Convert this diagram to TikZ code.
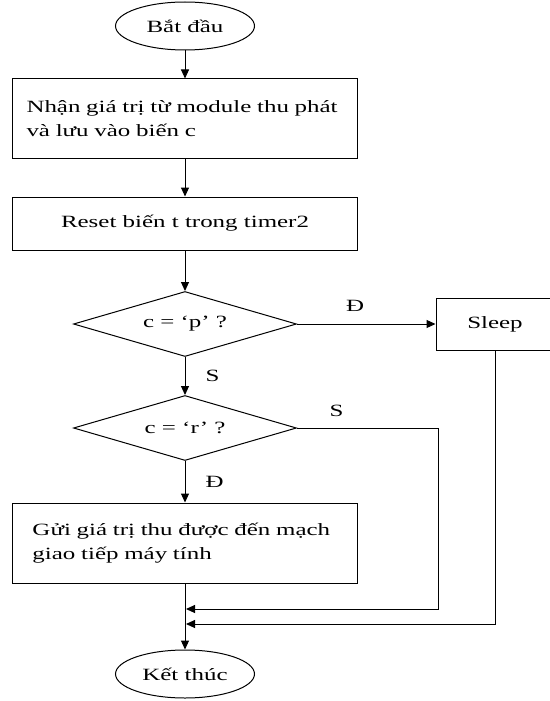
\documentclass[tikz,border=0pt]{standalone}
\usepackage{fontspec}
\setmainfont{Liberation Serif}[FakeStretch=1.45]
\usetikzlibrary{shapes.geometric,arrows.meta,quotes}

\tikzset{
  terminal/.style={ellipse, draw, minimum width=69.5pt, minimum height=24pt, inner sep=0pt},
  process/.style={rectangle, draw, minimum width=172.5pt, minimum height=26.5pt},
  decision/.style={diamond, draw, aspect=3.4, minimum width=111.5pt, minimum height=32.5pt, inner sep=0pt},
}

\begin{document}
\begin{tikzpicture}[x=0.5pt, y=-0.5pt, line width=0.5pt, >={Triangle[length=4.5pt,width=4pt]},
    font=\fontsize{8.6}{11.8}\selectfont, every edge quotes/.append style={auto}]
  \useasboundingbox (0,0) rectangle (550,701);
  \clip (0,0) rectangle (550,701);
  % main column
  \node [terminal] (start) at (185,26) {Bắt đầu};
  \node [process, minimum height=39.5pt, text width=158.5pt, inner xsep=7pt, align=left]
    (recv) at (185,118.5) {Nhận giá trị từ module thu phát\\và lưu vào biến c};
  \node [process] (reset) at (185,223.5) {Reset biến t trong timer2};
  \node [decision] (dec1) at (185,324) {c = ‘p’ ?};
  \node [decision] (dec2) at (185,428) {c = ‘r’ ?};
  \node [process, minimum height=40pt, text width=152.5pt, inner xsep=10pt, align=left]
    (act) at (185,543) {Gửi giá trị thu được đến mạch\\giao tiếp máy tính};
  \node [terminal] (stop) at (185,674) {Kết thúc};
  % side branch
  \node [rectangle, draw, minimum width=59pt, minimum height=26pt] (sleep) at (495,324) {Sleep};
  \coordinate (r1) at (438,609);
  \coordinate (j1) at (186,609);
  \coordinate (j2) at (186,624);

  \draw [->] (start) edge (recv)
    (recv) edge (reset)
    (reset) edge (dec1)
    (dec1) edge ["Đ" {pos=.42, inner sep=6pt}] (sleep)
    (dec1) edge ["S" {inner sep=10pt}] (dec2)
    (dec2) edge ["Đ" {inner sep=10pt}] (act)
    (act) edge (stop);
  \draw [->] (dec2.east) -| node [pos=.14, above, inner sep=5.5pt] {S} (r1) -- (j1);
  \draw [->] (sleep.south) |- (j2);
\end{tikzpicture}
\end{document}
